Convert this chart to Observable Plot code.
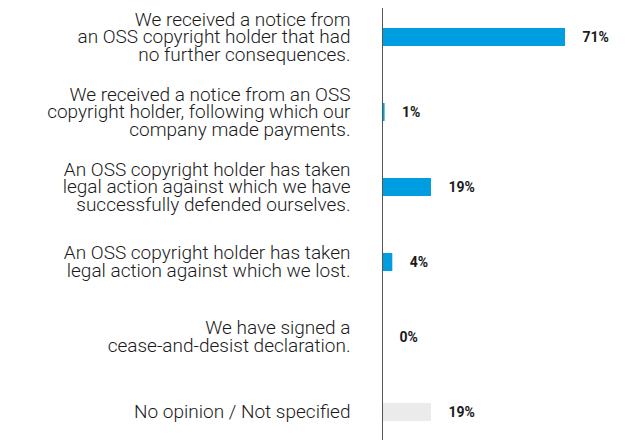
<!DOCTYPE html>
<html>
<head>
<meta charset="utf-8">
<script src="https://cdn.jsdelivr.net/npm/d3@7"></script>
<script src="https://cdn.jsdelivr.net/npm/@observablehq/plot@0.6"></script>
<style>
  html, body { margin: 0; padding: 0; background: #fff; }
  #chart svg { display: block; }
</style>
</head>
<body>
<div id="chart"></div>
<script>
const categories = [
  "We received a notice from\nan OSS copyright holder that had\nno further consequences.",
  "We received a notice from an OSS\ncopyright holder, following which our\ncompany made payments.",
  "An OSS copyright holder has taken\nlegal action against which we have\nsuccessfully defended ourselves.",
  "An OSS copyright holder has taken\nlegal action against which we lost.",
  "We have signed a\ncease-and-desist declaration.",
  "No opinion / Not specified"
];
const values = [71, 1, 19, 4, 0, 19];
const groups = ["answer", "answer", "answer", "answer", "answer", "none"];

const data = categories.map((c, i) => ({ category: c, value: values[i], group: groups[i] }));

const chart = Plot.plot({
  width: 627,
  height: 440,
  marginLeft: 382,
  marginRight: 13,
  marginTop: 8,
  marginBottom: 0,
  style: { fontFamily: "Roboto, sans-serif", background: "#fff" },
  x: { domain: [0, 90], axis: null },
  y: { domain: categories, axis: null, paddingInner: 0.76, paddingOuter: 0.25 },
  color: { domain: ["answer", "none"], range: ["#009ee0", "#ebebeb"] },
  marks: [
    Plot.barX(data, { x: "value", y: "category", fill: "group" }),
    Plot.ruleX([0], { stroke: "#555", strokeWidth: 1 }),
    Plot.text(data, {
      x: 0, y: "category", text: "category",
      textAnchor: "end", dx: -32,
      fontSize: 19, fontWeight: 300, lineHeight: 0.92,
      fill: "#1a1a1a"
    }),
    Plot.text(data, {
      x: "value", y: "category", text: d => d.value + "%",
      textAnchor: "start", dx: 17,
      fontSize: 14, fontWeight: 700, fill: "#1a1a1a"
    })
  ]
});
document.getElementById("chart").appendChild(chart);
</script>
</body>
</html>
